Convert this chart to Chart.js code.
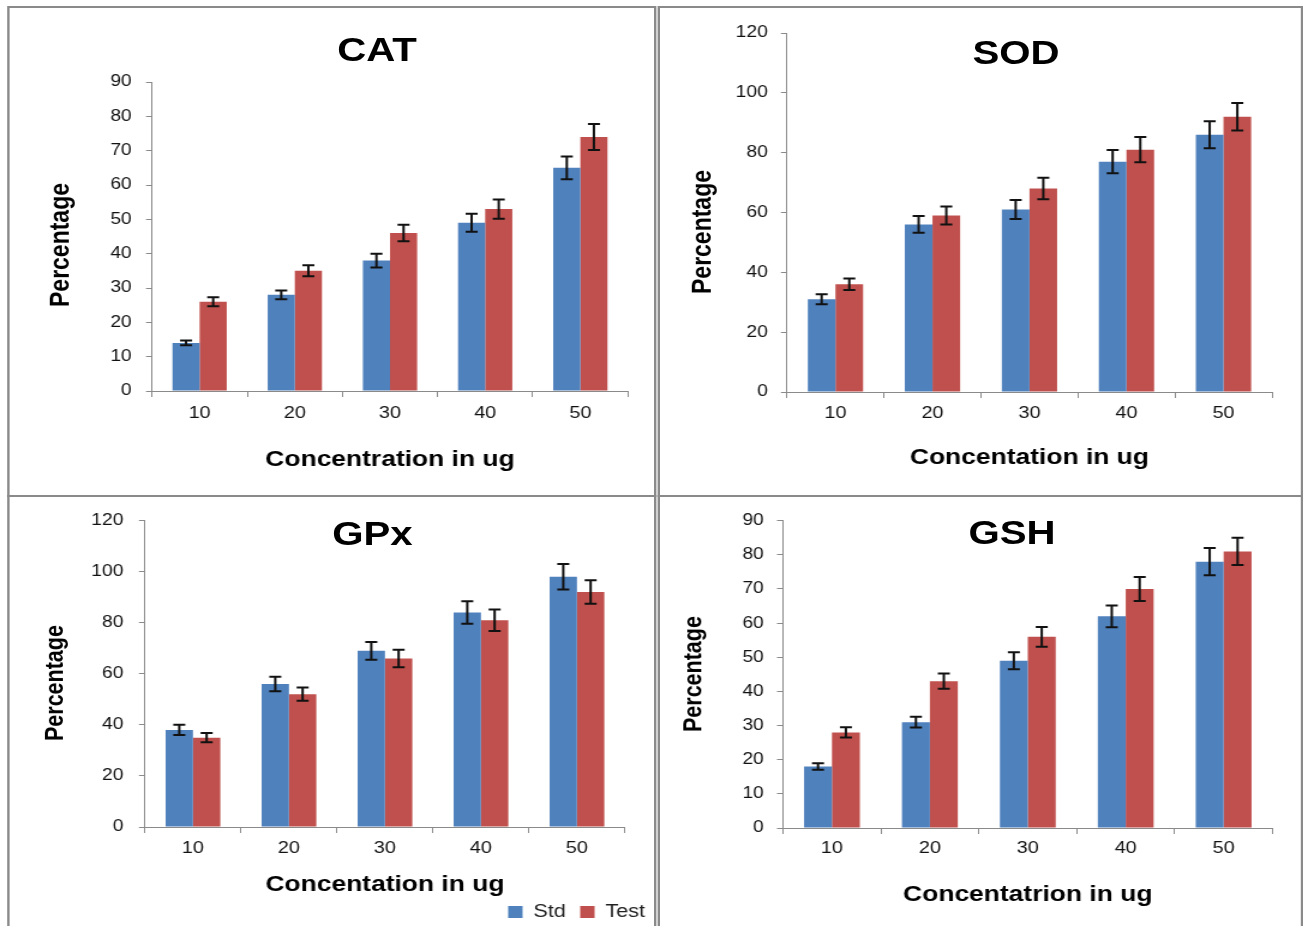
<!DOCTYPE html>
<html>
<head>
<meta charset="utf-8">
<script src="https://cdn.jsdelivr.net/npm/chart.js@4.4.1/dist/chart.umd.min.js"></script>
<style>
  html, body { margin: 0; padding: 0; background: #fff; overflow: hidden; width: 1303px; height: 926px; }
  /* the original figure is stretched sideways, so the whole sheet is drawn narrow and widened */
  #page { position: absolute; left: 0; top: 0; width: 1086px; height: 926px; transform: scaleX(1.2); transform-origin: 0 0; }
  .panel { position: absolute; box-sizing: border-box; border: 2px solid #8a8a8a; }
  canvas { position: absolute; }
  .title { position: absolute; transform: translate(-50%, -50%); font: bold 33.5px Arial, "Liberation Sans", sans-serif; line-height: 1; white-space: nowrap; color: #000; }
  .ytitle { position: absolute; transform: translate(-50%, -50%) rotate(-90deg); font-family: Arial, "Liberation Sans", sans-serif; font-weight: bold; line-height: 1; white-space: nowrap; color: #000; }
</style>
</head>
<body>
<div id="page">
  <div class="panel" style="left:5.8px;top:6px;width:541px;height:491px"></div>
  <div class="panel" style="left:547.5px;top:6px;width:538.5px;height:491px"></div>
  <div class="panel" style="left:5.8px;top:495px;width:541px;height:440px"></div>
  <div class="panel" style="left:547.5px;top:495px;width:538.5px;height:440px"></div>

  <canvas id="cat" width="536" height="486" style="left:8px;top:9px;width:536px;height:486px"></canvas>
  <canvas id="sod" width="535" height="486" style="left:549px;top:9px;width:535px;height:486px"></canvas>
  <canvas id="gpx" width="548" height="433" style="left:8px;top:498px;width:548px;height:433px"></canvas>
  <canvas id="gsh" width="535" height="428" style="left:549px;top:498px;width:535px;height:428px"></canvas>

  <div class="title" style="left:314.2px;top:50px">CAT</div>
  <div class="title" style="left:846.7px;top:52.5px">SOD</div>
  <div class="title" style="left:310.4px;top:534px">GPx</div>
  <div class="title" style="left:843.3px;top:533px">GSH</div>

  <div class="ytitle" style="left:49.6px;top:245px;font-size:23px">Percentage</div>
  <div class="ytitle" style="left:585px;top:231.5px;font-size:23px">Percentage</div>
  <div class="ytitle" style="left:45.5px;top:682.5px;font-size:21.5px">Percentage</div>
  <div class="ytitle" style="left:577.5px;top:674px;font-size:21.5px">Percentage</div>
</div>

<script>
const categories = ['10', '20', '30', '40', '50'];
const seriesNames = ['Std', 'Test'];

const catStd = [14, 28, 38, 49, 65];
const catStdErr = [0.7, 1.3, 2.0, 2.6, 3.3];
const catTest = [26, 35, 46, 53, 74];
const catTestErr = [1.3, 1.6, 2.4, 2.8, 3.8];

const sodStd = [31, 56, 61, 77, 86];
const sodStdErr = [1.7, 2.8, 3.2, 3.9, 4.5];
const sodTest = [36, 59, 68, 81, 92];
const sodTestErr = [1.9, 3.0, 3.6, 4.2, 4.6];

const gpxStd = [38, 56, 69, 84, 98];
const gpxStdErr = [2.0, 2.8, 3.5, 4.4, 5.0];
const gpxTest = [35, 52, 66, 81, 92];
const gpxTestErr = [1.8, 2.6, 3.4, 4.2, 4.6];

const gshStd = [18, 31, 49, 62, 78];
const gshStdErr = [0.95, 1.6, 2.5, 3.2, 4.0];
const gshTest = [28, 43, 56, 70, 81];
const gshTestErr = [1.5, 2.25, 2.9, 3.5, 4.0];

const FONT = 'Arial, "Liberation Sans", sans-serif';
const BLUE = '#4f81bd';
const RED = '#c0504d';
const AXIS = '#8a8a8a';

// error bars drawn at each bar through the y scale
const errorBars = {
  id: 'errorBars',
  afterDatasetsDraw(chart) {
    const ctx = chart.ctx;
    const y = chart.scales.y;
    ctx.save();
    ctx.strokeStyle = '#111';
    ctx.lineWidth = 2;
    chart.data.datasets.forEach((ds, di) => {
      const meta = chart.getDatasetMeta(di);
      meta.data.forEach((bar, i) => {
        const v = ds.data[i];
        const e = ds.errors[i];
        const top = y.getPixelForValue(v + e);
        const bot = y.getPixelForValue(v - e);
        ctx.beginPath();
        ctx.moveTo(bar.x, top); ctx.lineTo(bar.x, bot);
        ctx.moveTo(bar.x - 5, top); ctx.lineTo(bar.x + 5, top);
        ctx.moveTo(bar.x - 5, bot); ctx.lineTo(bar.x + 5, bot);
        ctx.stroke();
      });
    });
    ctx.restore();
  }
};

function drawPanel(id, std, stdErr, test, testErr, o) {
  const scales = {
    x: {
      grid: { drawOnChartArea: false, tickLength: 6, color: AXIS },
      border: { color: AXIS, width: 1 },
      ticks: { color: '#111', padding: o.xTickPad, font: { family: FONT, size: 16.5 } },
      title: {
        display: true, text: o.xTitle, color: '#000',
        font: { family: FONT, size: 22, weight: 'bold' },
        padding: { top: 0, bottom: o.xTitlePad }
      },
      afterFit: s => { s.height = o.H; }
    },
    y: {
      min: 0, max: o.yMax,
      grid: { drawOnChartArea: false, tickLength: 5, color: AXIS },
      border: { color: AXIS, width: 1 },
      ticks: { stepSize: o.step, color: '#111', padding: o.yTickPad, font: { family: FONT, size: 16 } },
      afterFit: s => { s.width = o.W; }
    }
  };
  if (o.spacer) {
    scales.r = {
      type: 'linear', position: 'right',
      grid: { display: false }, ticks: { display: false }, border: { display: false },
      afterFit: s => { s.width = o.spacer; }
    };
  }

  new Chart(document.getElementById(id), {
    type: 'bar',
    data: {
      labels: categories,
      datasets: [
        { label: seriesNames[0], data: std, errors: stdErr, backgroundColor: BLUE, borderWidth: 0 },
        { label: seriesNames[1], data: test, errors: testErr, backgroundColor: RED, borderWidth: 0 }
      ]
    },
    options: {
      responsive: false,
      animation: false,
      devicePixelRatio: 1,
      categoryPercentage: 0.57,
      barPercentage: 1.0,
      layout: { padding: { left: 0, top: o.padTop, right: o.padRight, bottom: 0 } },
      plugins: {
        legend: {
          display: !!o.legend,
          position: 'bottom',
          align: 'end',
          labels: { color: '#222', boxWidth: 12, boxHeight: 12, padding: 12, font: { family: FONT, size: 18 } }
        },
        tooltip: { enabled: false }
      },
      scales: scales
    },
    plugins: [errorBars]
  });
}

drawPanel('cat', catStd, catStdErr, catTest, catTestErr, {
  yMax: 90, step: 10, W: 118.7, H: 104, padTop: 73, padRight: 20.7,
  xTickPad: 7, xTitlePad: 21.8, yTickPad: 12, xTitle: 'Concentration in ug'
});

drawPanel('sod', sodStd, sodStdErr, sodTest, sodTestErr, {
  yMax: 120, step: 20, W: 106.8, H: 103, padTop: 24, padRight: 24,
  xTickPad: 6, xTitlePad: 23.5, yTickPad: 11, xTitle: 'Concentation in ug'
});

drawPanel('gpx', gpxStd, gpxStdErr, gpxTest, gpxTestErr, {
  yMax: 120, step: 20, W: 112.8, H: 64, padTop: 22.5, padRight: 6.5, spacer: 28.7,
  xTickPad: 6, xTitlePad: -7.2, yTickPad: 13, xTitle: 'Concentation in ug', legend: true
});

drawPanel('gsh', gshStd, gshStdErr, gshTest, gshTestErr, {
  yMax: 90, step: 10, W: 103.5, H: 98, padTop: 22.7, padRight: 23.5,
  xTickPad: 5, xTitlePad: 17.8, yTickPad: 11, xTitle: 'Concentatrion in ug'
});
</script>
</body>
</html>
